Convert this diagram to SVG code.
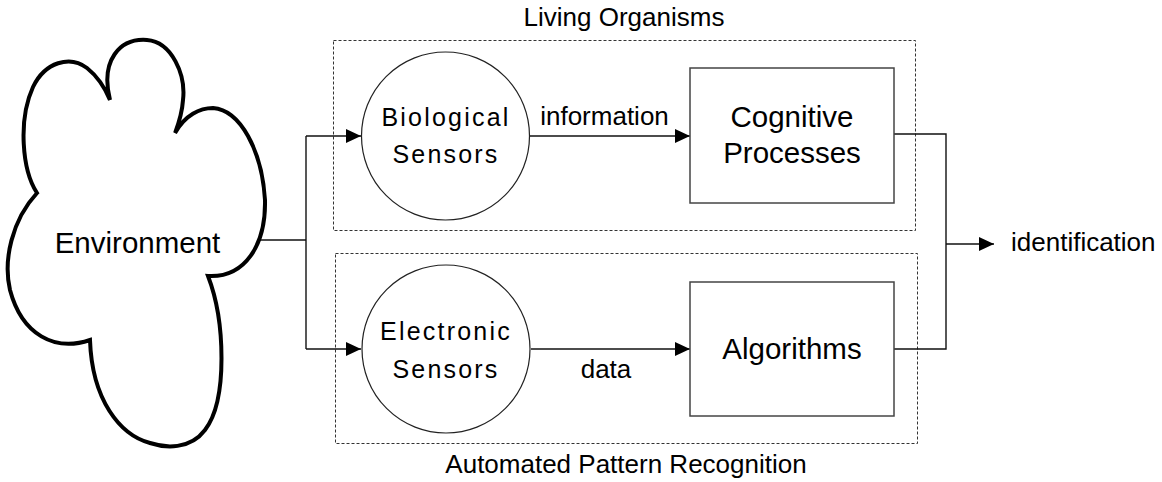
<svg xmlns="http://www.w3.org/2000/svg" width="1162" height="482" viewBox="0 0 1162 482">
<style>
text{font-family:"Liberation Sans",Arial,sans-serif;fill:#000}
.lbl{font-size:26px}
.big{font-size:29.5px}
.sp{font-size:25px;letter-spacing:2.2px}
.grp{fill:none;stroke:#333;stroke-width:1;stroke-dasharray:3,2}
.box{fill:#fff;stroke:#444;stroke-width:1.5}
.circ{fill:#fff;stroke:#222;stroke-width:1.2}
.con{fill:none;stroke:#111;stroke-width:1.4}
</style>
<defs>
<marker id="ah" markerWidth="15" markerHeight="14" refX="15" refY="7" orient="auto" markerUnits="userSpaceOnUse">
<path d="M0,0 L15,7 L0,14 Z" fill="#000"/>
</marker>
</defs>
<rect width="1162" height="482" fill="#fff"/>
<g id="group-living">
<rect class="grp" x="333.5" y="40.5" width="582" height="190"/>
<text class="lbl" x="624" y="26" text-anchor="middle">Living Organisms</text>
</g>
<g id="group-automated">
<rect class="grp" x="335.5" y="253.5" width="582" height="190"/>
<text class="lbl" x="626" y="473" text-anchor="middle">Automated Pattern Recognition</text>
</g>
<g id="connectors">
<polyline class="con" points="257,240 306,240"/>
<polyline class="con" points="306,136 306,349"/>
<line class="con" x1="306" y1="136" x2="361" y2="136" marker-end="url(#ah)"/>
<line class="con" x1="306" y1="349" x2="361" y2="349" marker-end="url(#ah)"/>
<line class="con" x1="530" y1="136" x2="690" y2="136" marker-end="url(#ah)"/>
<line class="con" x1="531" y1="349" x2="690" y2="349" marker-end="url(#ah)"/>
<polyline class="con" points="894,134 946,134 946,349 894,349"/>
<line class="con" x1="946" y1="244" x2="994" y2="244" marker-end="url(#ah)"/>
<text class="lbl" x="604.5" y="125" text-anchor="middle">information</text>
<text class="lbl" x="606" y="378" text-anchor="middle">data</text>
</g>
<g id="environment">
<path d="M110,100 C100,60 120,38 147,40 C172,42 186,75 183,100 C182,115 178,125 175,133 C185,115 200,108 213,108 C240,110 262,150 265,200 C266,245 245,278 208,276 C225,320 228,400 205,430 C190,450 165,448 150,443 C120,435 92,400 90,340 C55,352 22,335 10,290 C3,260 12,220 37,193 C22,170 18,120 33,87 C45,62 70,55 87,68 C97,76 105,88 110,100 Z" fill="#fff" stroke="#000" stroke-width="4" stroke-linejoin="miter"/>
<text class="big" x="137.5" y="253" text-anchor="middle">Environment</text>
</g>
<g id="bio-sensors">
<circle class="circ" cx="445.5" cy="136" r="84"/>
<text class="sp" x="446" y="126" text-anchor="middle">Biological</text>
<text class="sp" x="446" y="163" text-anchor="middle">Sensors</text>
</g>
<g id="cognitive">
<rect class="box" x="690" y="68" width="204" height="135"/>
<text class="big" x="792" y="127" text-anchor="middle">Cognitive</text>
<text class="big" x="792" y="163" text-anchor="middle">Processes</text>
</g>
<g id="elec-sensors">
<circle class="circ" cx="446" cy="349" r="84"/>
<text class="sp" x="446" y="340" text-anchor="middle">Electronic</text>
<text class="sp" x="446" y="378" text-anchor="middle">Sensors</text>
</g>
<g id="algorithms">
<rect class="box" x="690" y="282" width="204" height="134"/>
<text class="big" x="792" y="359" text-anchor="middle">Algorithms</text>
</g>
<g id="output">
<text class="lbl" x="1011" y="251">identification</text>
</g>
</svg>
